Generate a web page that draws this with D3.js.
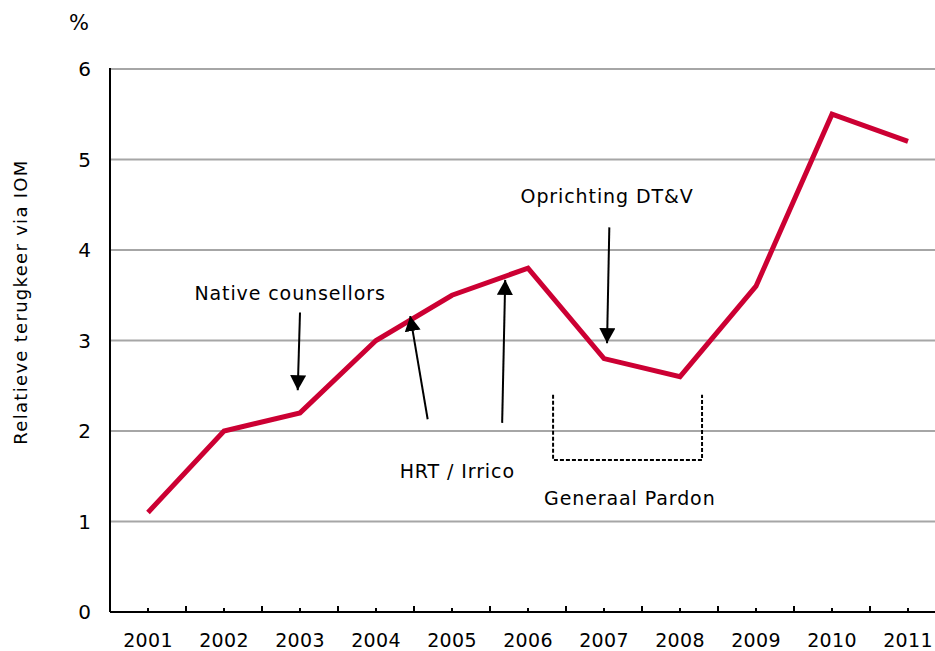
<!DOCTYPE html>
<html>
<head>
<meta charset="utf-8">
<script src="https://cdn.jsdelivr.net/npm/d3@7/dist/d3.min.js"></script>
<style>
  body { margin: 0; background: #fff; }
  text { font-family: "DejaVu Sans", Verdana, sans-serif; fill: #000; }
</style>
</head>
<body>
<svg class="svg" width="935" height="651"></svg>
<script>
let years = ['2001','2002','2003','2004','2005','2006','2007','2008','2009','2010','2011'];
let values = [1.1, 2.0, 2.2, 3.0, 3.5, 3.8, 2.8, 2.6, 3.6, 5.5, 5.2];
let yTicks = [0, 1, 2, 3, 4, 5, 6];

let yLabel = 'Relatieve terugkeer via IOM';
let unitLabel = '%';

// annotations, placed in (year index, value)
let notes = [
  {text: 'Native counsellors', tx: 1.87, ty: 3.45},
  {text: 'HRT / Irrico', tx: 4.07, ty: 1.48},
  {text: 'Oprichting DT&V', tx: 6.04, ty: 4.52},
  {text: 'Generaal Pardon', tx: 6.34, ty: 1.18}
];
// arrows: [fromX, fromY, toX, toY] in (index, value)
let arrows = [
  [2.00, 3.31, 1.97, 2.45],
  [3.68, 2.13, 3.45, 3.27],
  [4.66, 2.09, 4.70, 3.67],
  [6.07, 4.25, 6.04, 2.97]
];
// Generaal Pardon bracket (index from, index to, value top, value bottom)
let bracket = [5.33, 7.29, 2.4, 1.68];

let svg = d3.select('.svg');
let mLeft = 110, mRight = 946, mTop = 69, mBottom = 612;

let x = d3.scaleBand().domain(years).range([mLeft, mRight]);
let xi = d3.scaleLinear().domain([0, 1]).range([mLeft + x.bandwidth()/2, mLeft + x.bandwidth()*1.5]);
let y = d3.scaleLinear().domain([0, 6]).range([mBottom, mTop]);

let defs = svg.append('defs');
defs.append('marker').attr('id','arr')
    .attr('viewBox','0 0 15 16').attr('refX',15).attr('refY',8)
    .attr('markerWidth',15).attr('markerHeight',16).attr('markerUnits','userSpaceOnUse')
    .attr('orient','auto')
    .append('path').attr('d','M0,0 L15,8 L0,16 z').attr('fill','#000');

// gridlines
svg.selectAll('.grid').data(yTicks.filter(d => d > 0)).enter()
    .append('line').attr('class','grid')
    .attr('x1', mLeft).attr('x2', 935)
    .attr('y1', d => y(d)).attr('y2', d => y(d))
    .attr('stroke','#a6a6a6').attr('stroke-width',2);

// y axis
svg.append('line').attr('x1',mLeft).attr('x2',mLeft).attr('y1',mTop - 1).attr('y2',mBottom)
    .attr('stroke','#000').attr('stroke-width',2);
svg.selectAll('.ylab').data(yTicks).enter().append('text')
    .attr('x', 91).attr('y', d => y(d)).attr('dy','0.36em')
    .attr('text-anchor','end').style('font-size','20px').text(d => d);

// x axis
svg.append('line').attr('x1',mLeft).attr('x2',935).attr('y1',mBottom).attr('y2',mBottom)
    .attr('stroke','#000').attr('stroke-width',2);
svg.selectAll('.tkc').data(years).enter().append('line')
    .attr('x1', d => x(d) + x.bandwidth()/2).attr('x2', d => x(d) + x.bandwidth()/2)
    .attr('y1', mBottom).attr('y2', mBottom - 4).attr('stroke','#000').attr('stroke-width',2);
svg.selectAll('.tkb').data(years.slice(1)).enter().append('line')
    .attr('x1', d => x(d)).attr('x2', d => x(d))
    .attr('y1', mBottom).attr('y2', mBottom - 6).attr('stroke','#000').attr('stroke-width',2);
svg.selectAll('.xlab').data(years).enter().append('text')
    .attr('x', d => x(d) + x.bandwidth()/2).attr('y', 647)
    .attr('text-anchor','middle').style('font-size','19px').style('letter-spacing','0.3px')
    .text(d => d);

// titles
svg.append('text').attr('x',79).attr('y',30).attr('text-anchor','middle')
    .style('font-size','21px').text(unitLabel);
svg.append('text').attr('transform','translate(27,302) rotate(-90)')
    .attr('text-anchor','middle').style('font-size','18px').style('letter-spacing','1.3px')
    .text(yLabel);

// data line
let line = d3.line().x((d,i) => x(years[i]) + x.bandwidth()/2).y(d => y(d));
svg.append('path').datum(values).attr('d', line)
    .attr('fill','none').attr('stroke','#cc0033').attr('stroke-width',5)
    .attr('stroke-linejoin','miter');

// annotations
svg.selectAll('.note').data(notes).enter().append('text')
    .attr('x', d => xi(d.tx)).attr('y', d => y(d.ty))
    .attr('text-anchor','middle').style('font-size','19px').style('letter-spacing','0.9px')
    .text(d => d.text);

svg.selectAll('.arrow').data(arrows).enter().append('line')
    .attr('x1', d => xi(d[0])).attr('y1', d => y(d[1]))
    .attr('x2', d => xi(d[2])).attr('y2', d => y(d[3]))
    .attr('stroke','#000').attr('stroke-width',2).attr('marker-end','url(#arr)');

let bx0 = xi(bracket[0]), bx1 = xi(bracket[1]), by0 = y(bracket[2]), by1 = y(bracket[3]);
svg.append('path')
    .attr('d', `M${bx0},${by0} L${bx0},${by1} L${bx1},${by1} L${bx1},${by0}`)
    .attr('fill','none').attr('stroke','#000').attr('stroke-width',2)
    .attr('stroke-dasharray','4,2');
</script>
</body>
</html>
